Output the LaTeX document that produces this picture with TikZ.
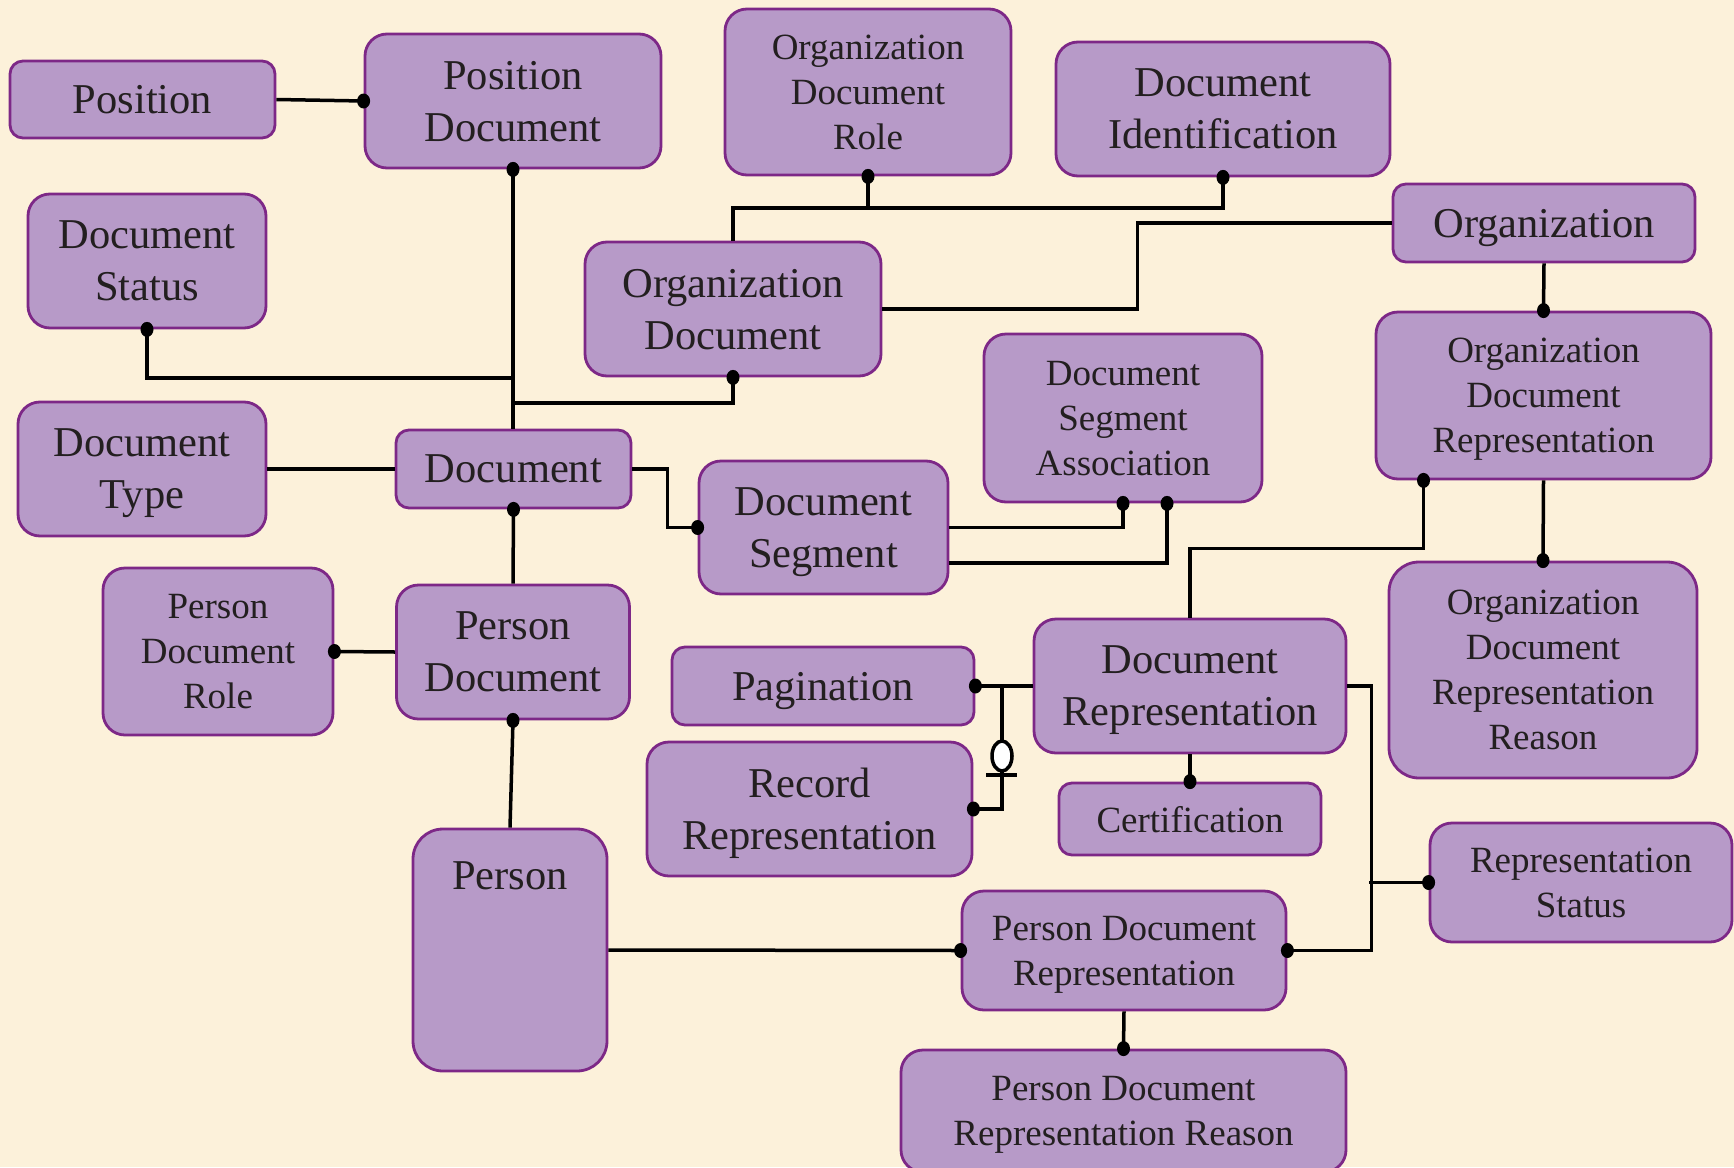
\documentclass[tikz,border=0pt]{standalone}
\usepackage{fontspec}
\setmainfont{Liberation Serif}
\definecolor{bgcream}{HTML}{FCF1DA}
\definecolor{boxfill}{HTML}{B79AC8}
\definecolor{boxline}{HTML}{7D2887}
\definecolor{inkdark}{HTML}{231F20}

\begin{document}
\begin{tikzpicture}[
    x=1pt, y=-1pt,
    entity/.style={rectangle, rounded corners=22pt, draw=boxline, line width=2.8pt, fill=boxfill, align=center, text=inkdark, inner sep=0pt, text depth=0pt, font=\fontsize{42.5}{52}\selectfont},
    smallentity/.style={entity, font=\fontsize{37}{45}\selectfont},
    flatbox/.style={rounded corners=13pt},
    conn/.style={line width=3.5pt, black}
    ]

    \fill[bgcream] (0,0) rectangle (1734,1167);
    \useasboundingbox (0,0) rectangle (1734,1167);

    % upper left
    \node[entity, flatbox, minimum width=265pt, minimum height=77pt] (position) at (142.5,99.5) {Position};
    \node[entity, minimum width=296pt, minimum height=134pt] (posdoc) at (513,101) {Position\\Document};
    \node[entity, minimum width=238pt, minimum height=134pt] (docstatus) at (147,261) {Document\\Status};
    \node[entity, minimum width=248pt, minimum height=134pt] (doctype) at (142,469) {Document\\Type};
    \node[entity, flatbox, minimum width=235pt, minimum height=78pt] (document) at (513.5,469) {Document};
    \node[smallentity, minimum width=230pt, minimum height=167pt] (pdrole) at (218,651.5) {Person\\Document\\Role};
    \node[entity, minimum width=233pt, minimum height=134pt] (persondoc) at (513,652) {Person\\Document};
    \node[entity, rounded corners=30pt, minimum width=194pt, minimum height=242pt] (person) at (510,950) {};
    \node[font=\fontsize{42.5}{52}\selectfont, text=inkdark] (persontxt) at ([yshift=-48pt]person.north) {Person};

    % upper middle and right
    \node[smallentity, minimum width=286pt, minimum height=166pt] (odrole) at (868,92) {Organization\\Document\\Role};
    \node[entity, minimum width=334pt, minimum height=134pt] (docid) at (1223,109) {Document\\Identification};
    \node[entity, minimum width=296pt, minimum height=134pt] (orgdoc) at (733,309) {Organization\\Document};
    \node[entity, flatbox, minimum width=302pt, minimum height=78pt] (org) at (1544,223) {Organization};
    \node[smallentity, minimum width=278pt, minimum height=168pt] (dsa) at (1123,418) {Document\\Segment\\Association};
    \node[smallentity, minimum width=335pt, minimum height=167pt] (odrep) at (1543.5,395.5) {Organization\\Document\\Representation};
    \node[entity, minimum width=249pt, minimum height=133pt] (docseg) at (823.5,527.5) {Document\\Segment};
    \node[smallentity, rounded corners=30pt, minimum width=308pt, minimum height=216pt] (odrr) at (1543,670) {Organization\\Document\\Representation\\Reason};

    % lower middle and right
    \node[entity, flatbox, minimum width=302pt, minimum height=78pt] (pagination) at (823,686) {Pagination};
    \node[entity, minimum width=312pt, minimum height=134pt] (docrep) at (1190,686) {Document\\Representation};
    \node[entity, minimum width=325pt, minimum height=134pt] (recrep) at (809.5,809) {Record\\Representation};
    \node[smallentity, flatbox, minimum width=262pt, minimum height=72pt] (cert) at (1190,819) {Certification};
    \node[smallentity, minimum width=302pt, minimum height=119pt] (repstatus) at (1581,882.5) {Representation\\Status};
    \node[smallentity, minimum width=324pt, minimum height=119pt] (pdrep) at (1124,950.5) {Person Document\\Representation};
    \node[smallentity, minimum width=445pt, minimum height=122pt] (pdrr) at (1123.5,1111) {Person Document\\Representation Reason};

    % joints
    \coordinate (jstatus) at (513,378);
    \coordinate (jorgdoc) at (513,403);
    \coordinate (jtop) at (733,208);
    \coordinate (jpag) at (1002,686);
    \coordinate (dsadot) at ([xshift=44pt]dsa.south);
    \coordinate (odrepdot) at ([xshift=-120pt]odrep.south);

    % connectors
    \draw[conn] (position.east) -- (posdoc.west);
    \draw[conn] (posdoc.south) -- (posdoc.south |- document.north);
    \draw[conn] (docstatus.south) |- (jstatus);
    \draw[conn] (orgdoc.south) |- (jorgdoc);
    \draw[conn] (doctype.east) -- (document.west);
    \draw[conn] (document.east) -- ++(35,0) |- (docseg.west);
    \draw[conn] (document.south) -- (persondoc.north);
    \draw[conn] (pdrole.east) -- (persondoc.west);
    \draw[conn] (persondoc.south) -- (person.north);
    \draw[conn] (orgdoc.north) |- (docid.south |- jtop) -- (docid.south);
    \draw[conn] (odrole.south) -- (odrole.south |- jtop);
    \draw[conn] (org.west) -- ++(-254,0) |- (orgdoc.east);
    \draw[conn] (org.south) -- (odrep.north);
    \draw[conn] (odrep.south) -- (odrr.north);
    \draw[conn] (docseg.east) -| (dsa.south);
    \draw[conn] ([yshift=-35.5pt]docseg.east) -| (dsadot);
    \draw[conn] (docrep.north) -- ++(0,-69) -| (odrepdot);
    \draw[conn] (pagination.east) -- (docrep.west);
    \draw[conn] (jpag) |- (recrep.east);
    \draw[conn, fill=white] ([yshift=-70pt]jpag) ellipse (10pt and 15pt);
    \draw[conn] ([xshift=-16pt,yshift=-89pt]jpag) -- ([xshift=15pt,yshift=-89pt]jpag);
    \draw[conn] (docrep.south) -- (cert.north);
    \draw[conn] (docrep.east) -- ++(24,0) |- (pdrep.east);
    \draw[conn] (repstatus.west) -- ++(-60,0);
    \draw[conn] (person.east) -- (pdrep.west);
    \draw[conn] (pdrep.south) -- (pdrr.north);

    % dots
    \foreach \p in {posdoc.west, posdoc.south, docstatus.south, orgdoc.south, document.south, docseg.west, pdrole.east, persondoc.south, odrole.south, docid.south, odrep.north, dsa.south, dsadot, odrepdot, odrr.north, pagination.east, recrep.east, cert.north, repstatus.west, pdrep.west, pdrep.east, pdrr.north}
        \fill (\p) ellipse (6.5pt and 7.5pt);
\end{tikzpicture}
\end{document}
